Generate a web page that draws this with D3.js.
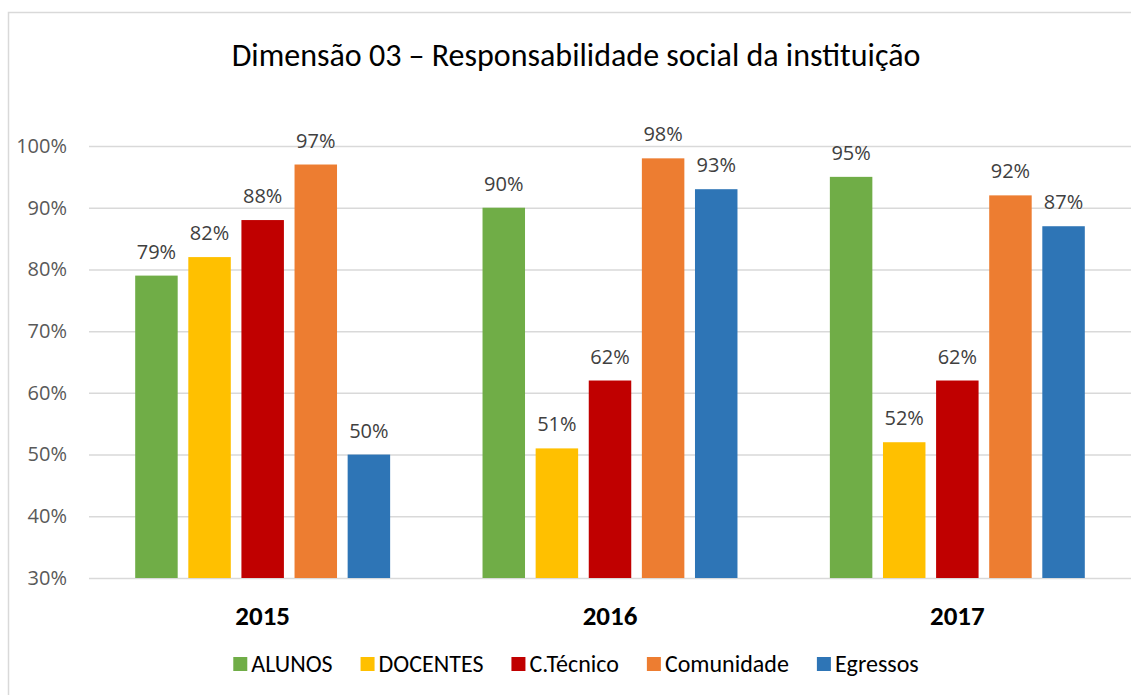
<!DOCTYPE html>
<html>
<head>
<meta charset="utf-8">
<script src="https://cdn.jsdelivr.net/npm/d3@7"></script>
<style>
  body { margin: 0; background: #fff; }
  svg { display: block; }
  .grid line { stroke: #d9d9d9; stroke-width: 1.5; }
  .grid .domain { display: none; }
  .yaxis text { fill: #595959; font-family: 'Open Sans', sans-serif; font-size: 20px; }
  .yaxis .domain, .yaxis line { display: none; }
  .val { fill: #404040; font-family: 'Open Sans', sans-serif; font-size: 20px; text-anchor: middle; }
  .narrow { font-family: Carlito, 'Liberation Sans Narrow', Lato, sans-serif; }
</style>
</head>
<body>
<svg id="chart"></svg>
<script>
const years = ['2015', '2016', '2017'];
const series = ['ALUNOS', 'DOCENTES', 'C.Técnico', 'Comunidade', 'Egressos'];
const colors = ['#70ad47', '#ffc000', '#c00000', '#ed7d31', '#2e75b6'];
const alunos = [79, 90, 95];
const docentes = [82, 51, 52];
const tecnico = [88, 62, 62];
const comunidade = [97, 98, 92];
const egressos = [50, 93, 87];
const yTicks = [30, 40, 50, 60, 70, 80, 90, 100];
const title = 'Dimensão 03 – Responsabilidade social da instituição';

const values = [alunos, docentes, tecnico, comunidade, egressos];
const data = years.map((yr, i) => ({
  year: yr,
  bars: series.map((s, j) => ({ name: s, color: colors[j], v: values[j][i] }))
}));

const W = 1131;
const H = 695;
const centerX = 576;

const svg = d3.select('#chart')
    .attr('width', W)
    .attr('height', H);

// chart frame
svg.append('rect')
    .attr('x', 8.5)
    .attr('y', 12.5)
    .attr('width', 1200)
    .attr('height', 800)
    .attr('fill', '#fff')
    .attr('stroke', '#d9d9d9')
    .attr('stroke-width', 1.5);

const x0 = d3.scaleBand()
    .domain(years)
    .range([89, 1131])
    .paddingInner(0.266)
    .paddingOuter(0.133);

const x1 = d3.scaleBand()
    .domain(series)
    .range([0, x0.bandwidth()])
    .paddingInner(0.2);

const y = d3.scaleLinear()
    .domain([30, 100])
    .range([578, 146]);

// gridlines
svg.append('g')
    .attr('class', 'grid')
    .attr('transform', 'translate(89,0)')
    .call(d3.axisLeft(y).tickValues(yTicks).tickSize(-(1131 - 89)).tickFormat(''));

svg.append('g')
    .attr('class', 'yaxis')
    .attr('transform', 'translate(67,0)')
    .call(d3.axisLeft(y).tickValues(yTicks).tickSize(0).tickPadding(0)
      .tickFormat(d => d + '%'));

const groups = svg.selectAll('.group')
    .data(data)
  .enter().append('g')
    .attr('class', 'group')
    .attr('transform', d => `translate(${x0(d.year)},0)`);

groups.selectAll('rect')
    .data(d => d.bars)
  .enter().append('rect')
    .attr('x', d => x1(d.name))
    .attr('y', d => y(d.v))
    .attr('width', x1.bandwidth())
    .attr('height', d => y(30) - y(d.v))
    .attr('fill', d => d.color);

groups.selectAll('.val')
    .data(d => d.bars)
  .enter().append('text')
    .attr('class', 'val')
    .attr('x', d => x1(d.name) + x1.bandwidth() / 2)
    .attr('y', d => y(d.v) - 17)
    .text(d => d.v + '%');

// year labels
svg.selectAll('.year')
    .data(years)
  .enter().append('text')
    .attr('class', 'year narrow')
    .attr('x', d => x0(d) + x0.bandwidth() / 2)
    .attr('y', 625)
    .attr('text-anchor', 'middle')
    .attr('font-size', 27)
    .attr('font-weight', 'bold')
    .attr('fill', '#000')
    .text(d => d);

// title
svg.append('text')
    .attr('class', 'narrow')
    .attr('x', centerX)
    .attr('y', 66)
    .attr('text-anchor', 'middle')
    .attr('font-size', 32)
    .attr('fill', '#000')
    .text(title);

// legend
const legend = svg.append('g');
let lx = 0;
series.forEach((s, i) => {
  const item = legend.append('g').attr('transform', `translate(${lx},0)`);
  item.append('rect')
      .attr('x', 0)
      .attr('y', 657)
      .attr('width', 14)
      .attr('height', 14)
      .attr('fill', colors[i]);
  const t = item.append('text')
      .attr('class', 'narrow')
      .attr('x', 18)
      .attr('y', 672)
      .attr('font-size', 24)
      .attr('fill', '#000')
      .text(s);
  lx += 18 + t.node().getComputedTextLength() + 28;
});
const legendW = lx - 28;
legend.attr('transform', `translate(${centerX - legendW / 2},0)`);
</script>
</body>
</html>
